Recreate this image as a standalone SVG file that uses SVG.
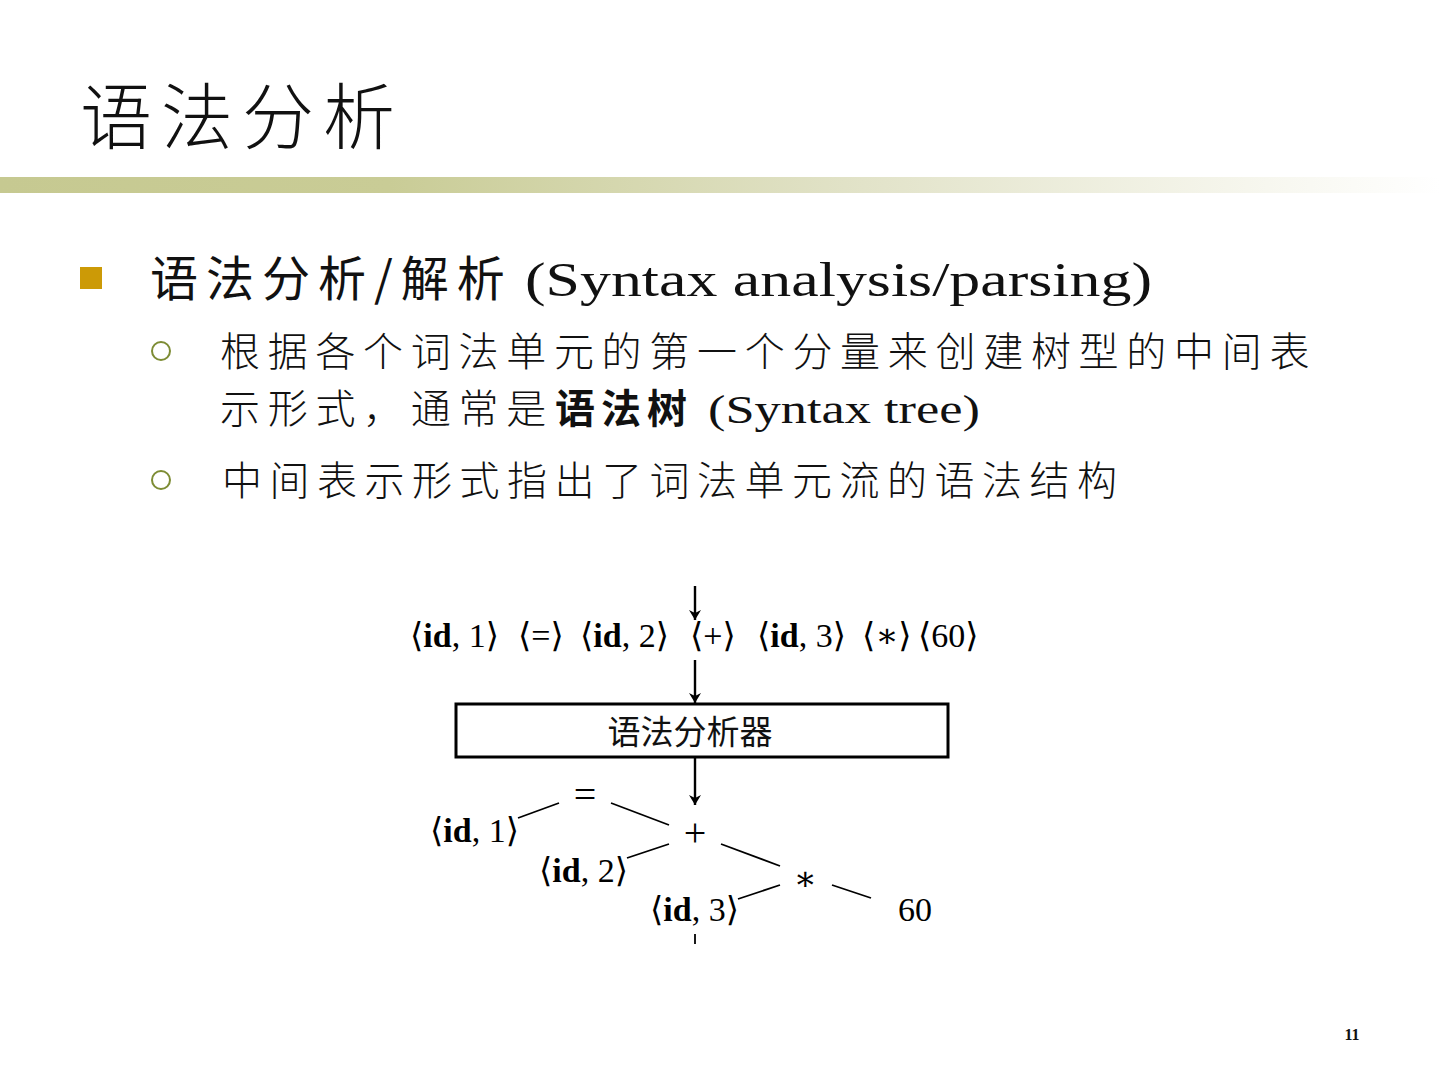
<svg xmlns="http://www.w3.org/2000/svg" width="1440" height="1080" viewBox="0 0 1440 1080">
<defs>
<linearGradient id="bar" x1="0" y1="0" x2="1" y2="0">
<stop offset="0" stop-color="#c6c991"/>
<stop offset="0.27" stop-color="#c9cc96"/>
<stop offset="0.6" stop-color="#e2e3c9"/>
<stop offset="0.88" stop-color="#f7f7ef"/>
<stop offset="1" stop-color="#ffffff"/>
</linearGradient>
<marker id="ah" viewBox="0 0 10 20" refX="10" refY="10" markerWidth="10" markerHeight="20" markerUnits="userSpaceOnUse" orient="auto">
<path d="M0,4 L10,10 L0,16 L3,10 Z" fill="#000"/>
</marker>
<style>
.cjk{font-family:"Noto Sans CJK SC","Noto Sans CJK JP",sans-serif;fill:#111}
.ser{font-family:"Liberation Serif","DejaVu Serif","Noto Sans CJK SC",serif;fill:#111}
.tok{font-family:"Liberation Serif","DejaVu Serif",serif;font-size:34px;fill:#000}
.op{font-family:"Liberation Serif","DejaVu Serif",serif;font-size:40px;fill:#000}
.b{font-weight:bold}
.ln{stroke:#000;stroke-width:1.8;fill:none}
.arr{stroke:#000;stroke-width:2.4;fill:none;marker-end:url(#ah)}
.sub{fill:none;stroke:#7d8c34;stroke-width:2}
</style>
</defs>
<rect width="1440" height="1080" fill="#fff"/>
<text class="cjk" x="80" y="143" font-size="72" letter-spacing="9" font-weight="300">语法分析</text>
<rect x="0" y="177" width="1440" height="16" fill="url(#bar)"/>

<g id="bullets">
<rect x="80" y="267" width="22" height="22" fill="#cc9a06"/>
<text x="150" y="296" font-size="48"><tspan class="cjk" letter-spacing="8">语法分析/解析</tspan><tspan class="ser" x="525" textLength="627" lengthAdjust="spacingAndGlyphs">(Syntax analysis/parsing)</tspan></text>
<circle class="sub" cx="161" cy="351" r="9"/>
<text class="cjk" x="220" y="366" font-size="40" letter-spacing="7.7" font-weight="300">根据各个词法单元的第一个分量来创建树型的中间表</text>
<text x="220" y="423" font-size="40"><tspan class="cjk" letter-spacing="7.7" font-weight="300">示形式，通常是</tspan><tspan class="cjk b" x="555" letter-spacing="6">语法树</tspan><tspan class="ser" x="708" textLength="272" lengthAdjust="spacingAndGlyphs">(Syntax tree)</tspan></text>
<circle class="sub" cx="161" cy="480" r="9"/>
<text class="cjk" x="222" y="495" font-size="40" letter-spacing="7.5" font-weight="300">中间表示形式指出了词法单元流的语法结构</text>
</g>

<g id="tokens">
<text class="tok" x="410" y="647">⟨<tspan class="b">id</tspan>, 1⟩</text>
<text class="tok" x="518" y="647">⟨=⟩</text>
<text class="tok" x="580" y="647">⟨<tspan class="b">id</tspan>, 2⟩</text>
<text class="tok" x="690" y="647">⟨+⟩</text>
<text class="tok" x="757" y="647">⟨<tspan class="b">id</tspan>, 3⟩</text>
<text class="tok" x="862" y="647">⟨∗⟩</text>
<text class="tok" x="918" y="647">⟨60⟩</text>
</g>

<g id="parser">
<rect x="456" y="704" width="492" height="53" fill="#fff" stroke="#000" stroke-width="3"/>
<text class="cjk" x="690" y="744" font-size="33" text-anchor="middle">语法分析器</text>
</g>

<g id="tree">
<text class="op" x="585" y="808" text-anchor="middle">=</text>
<text class="tok" x="430" y="842">⟨<tspan class="b">id</tspan>, 1⟩</text>
<text class="op" x="695" y="846" text-anchor="middle">+</text>
<text class="tok" x="539" y="882">⟨<tspan class="b">id</tspan>, 2⟩</text>
<text class="tok" x="805" y="890" text-anchor="middle">∗</text>
<text class="tok" x="650" y="921">⟨<tspan class="b">id</tspan>, 3⟩</text>
<text class="tok" x="898" y="921">60</text>
</g>

<g id="connectors">
<line class="arr" x1="695" y1="586" x2="695" y2="620"/>
<line class="arr" x1="695" y1="660" x2="695" y2="703"/>
<line class="arr" x1="695" y1="757" x2="695" y2="805"/>
<line class="ln" x1="518" y1="818" x2="559" y2="803"/>
<line class="ln" x1="611" y1="803" x2="669" y2="825"/>
<line class="ln" x1="627" y1="858" x2="669" y2="844"/>
<line class="ln" x1="721" y1="844" x2="780" y2="866"/>
<line class="ln" x1="738" y1="899" x2="780" y2="885"/>
<line class="ln" x1="832" y1="885" x2="871" y2="898"/>
<line class="ln" x1="695" y1="934" x2="695" y2="944"/>
</g>

<text class="ser b" x="1352" y="1040" font-size="16" text-anchor="middle">11</text>
</svg>
